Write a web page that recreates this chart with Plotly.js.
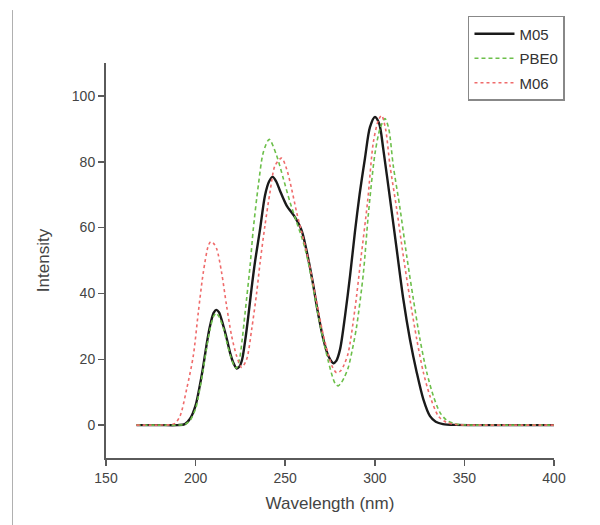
<!DOCTYPE html>
<html>
<head>
<meta charset="utf-8">
<script src="https://cdn.plot.ly/plotly-3.0.1.min.js"></script>
<style>
  html, body { margin: 0; padding: 0; background: #fff; }
  #chart { width: 600px; height: 525px; }
</style>
</head>
<body>
<div id="chart"></div>
<script>
// ---- Data ----
const seriesNames = ["M05", "PBE0", "M06"];

const m05Wavelength = [167, 180, 190, 194, 197, 200, 202, 204, 206, 208, 210, 211.5, 213, 215.5, 217.5, 219.2, 221, 222.9, 224.5, 226, 228, 229.4, 231, 233.1, 236, 238.7, 241, 243, 245, 247.1, 250.8, 255.5, 259.2, 262.9, 265.5, 267.6, 271.3, 274.1, 276.9, 278.5, 280.6, 283.4, 286.2, 288.9, 291.5, 294.5, 297.3, 300.1, 302.5, 304.7, 308.5, 312.2, 315.9, 319.6, 323.4, 327.1, 330.8, 334, 338, 345, 360, 380, 400];
const m05Intensity  = [0, 0, 0, 0.3, 2, 6, 11, 17, 24, 30, 34, 35, 34.3, 30.1, 26, 22, 19, 17.2, 17.8, 20, 27, 33, 40.5, 49.4, 59.6, 69.7, 74, 75.4, 74, 71.2, 66.7, 63.1, 59.1, 50.4, 43, 36.2, 26.1, 21, 18.8, 19.5, 23, 33.2, 45.4, 58.6, 70, 81, 90.5, 93.6, 91.5, 84, 68.7, 53.5, 38.3, 26.1, 16, 7.8, 2.7, 1, 0.3, 0.05, 0, 0, 0];

const pbe0Wavelength = [167, 180, 190, 194, 197, 200, 202, 204, 206, 208, 210, 211.5, 213, 215.5, 217.5, 219.5, 221.5, 222.7, 224.5, 226, 227.6, 230.4, 232.2, 235, 237.8, 241.1, 245.2, 249, 252.7, 256.4, 260.1, 262.9, 265.5, 268, 271, 274, 276.5, 278, 279.6, 281.2, 283, 285.2, 287.5, 289.9, 293.6, 296.4, 300.1, 302.9, 305.7, 307.8, 310.3, 314.1, 317.8, 321.5, 325.2, 329, 332.7, 336.4, 340, 344, 348, 355, 370, 400];
const pbe0Intensity  = [0, 0, 0, 0.2, 1.5, 5, 10, 16, 23, 29, 33, 34, 33, 29.5, 25, 21, 18, 17.3, 20, 26, 34, 48.4, 59.6, 72.8, 82.9, 86.8, 81.9, 74.8, 67.7, 61.6, 55.5, 49.4, 42, 34.5, 26.5, 19.5, 14.5, 12.5, 11.9, 12.8, 14.5, 17.5, 23, 30.1, 46, 64, 82.5, 90, 93.1, 90, 78.8, 65.7, 51.4, 38.3, 26.1, 16, 8.8, 3.8, 1.5, 0.5, 0.1, 0, 0, 0];

const m06Wavelength = [167, 180, 186, 188.5, 191.3, 195, 198.7, 201.5, 204.3, 207.1, 208.4, 210, 211.8, 214.5, 217.3, 220.1, 222.9, 225.7, 228.5, 231.3, 234.1, 236, 238.7, 241.5, 244.3, 248, 250.8, 253.6, 256.4, 259.2, 262.9, 267, 271, 274, 276.5, 278.7, 281, 283, 285.2, 288.9, 292.2, 296, 299.2, 302, 303.8, 306, 308.5, 312.2, 315.9, 319.6, 323.4, 327.1, 330.8, 335.5, 340, 345, 352, 370, 400];
const m06Intensity  = [0, 0, 0.1, 0.5, 2.7, 10.9, 21, 34.2, 46.4, 54.5, 55.7, 55.2, 53.5, 46.4, 36.2, 27.1, 21, 17.5, 20, 29.1, 40.3, 49.4, 60.6, 70.7, 78.8, 81.1, 77.8, 71.7, 64.6, 58.6, 50.4, 39, 28, 21.5, 17.5, 15.9, 16.5, 18.5, 22, 35.2, 50.4, 68, 86, 92.6, 94.1, 90, 78.8, 65.7, 51.4, 38.3, 26.1, 16, 8.8, 2.7, 0.8, 0.2, 0, 0, 0];

const xTicks = [150, 200, 250, 300, 350, 400];
const yTicks = [0, 20, 40, 60, 80, 100];

// ---- Plot ----
const FONT = "Liberation Sans, Arial, Helvetica, sans-serif";

const traces = [
  { x: m05Wavelength, y: m05Intensity, name: seriesNames[0], legendgroup: "a", type: "scatter", mode: "lines",
    line: { color: "#1a1a1a", width: 2.4, shape: "spline", smoothing: 0.8 } },
  { x: pbe0Wavelength, y: pbe0Intensity, name: seriesNames[1], legendgroup: "b", type: "scatter", mode: "lines",
    line: { color: "#6cbf4a", width: 1.6, dash: "4px,3px", shape: "spline", smoothing: 0.8 } },
  { x: m06Wavelength, y: m06Intensity, name: seriesNames[2], legendgroup: "c", type: "scatter", mode: "lines",
    line: { color: "#ef6b6b", width: 1.6, dash: "dot", shape: "spline", smoothing: 0.8 } }
];

const axisCommon = {
  showline: true, linecolor: "#5a5a5a", linewidth: 2,
  ticks: "outside", ticklen: 6, tickwidth: 1.5, tickcolor: "#5a5a5a",
  showgrid: false, zeroline: false, mirror: false,
  tickfont: { family: FONT, size: 14, color: "#444" }
};

const layout = {
  width: 600, height: 525,
  margin: { l: 106, r: 46, t: 63, b: 67 },
  paper_bgcolor: "#fff", plot_bgcolor: "#fff",
  showlegend: true,
  xaxis: Object.assign({}, axisCommon, {
    range: [150, 400], tickvals: xTicks, ticktext: xTicks.map(String),
    title: { text: "Wavelength (nm)", font: { family: FONT, size: 17, color: "#444" }, standoff: 12 }
  }),
  yaxis: Object.assign({}, axisCommon, {
    range: [-10, 110], tickvals: yTicks, ticktext: yTicks.map(String),
    title: { text: "Intensity", font: { family: FONT, size: 17, color: "#444" }, standoff: 18 }
  }),
  legend: {
    x: 0.808, y: 1.119, xanchor: "left", yanchor: "top",
    bgcolor: "#fff", bordercolor: "#888", borderwidth: 1.5,
    font: { family: FONT, size: 15, color: "#333" },
    itemwidth: 40, tracegroupgap: 2
  },
  shapes: [
    { type: "line", xref: "paper", yref: "paper", x0: -0.2087, x1: -0.2087, y0: 1.134, y1: -0.17,
      line: { color: "#b0b0b0", width: 1 } }
  ]
};

Plotly.newPlot("chart", traces, layout, { staticPlot: true, displayModeBar: false });
</script>
</body>
</html>
